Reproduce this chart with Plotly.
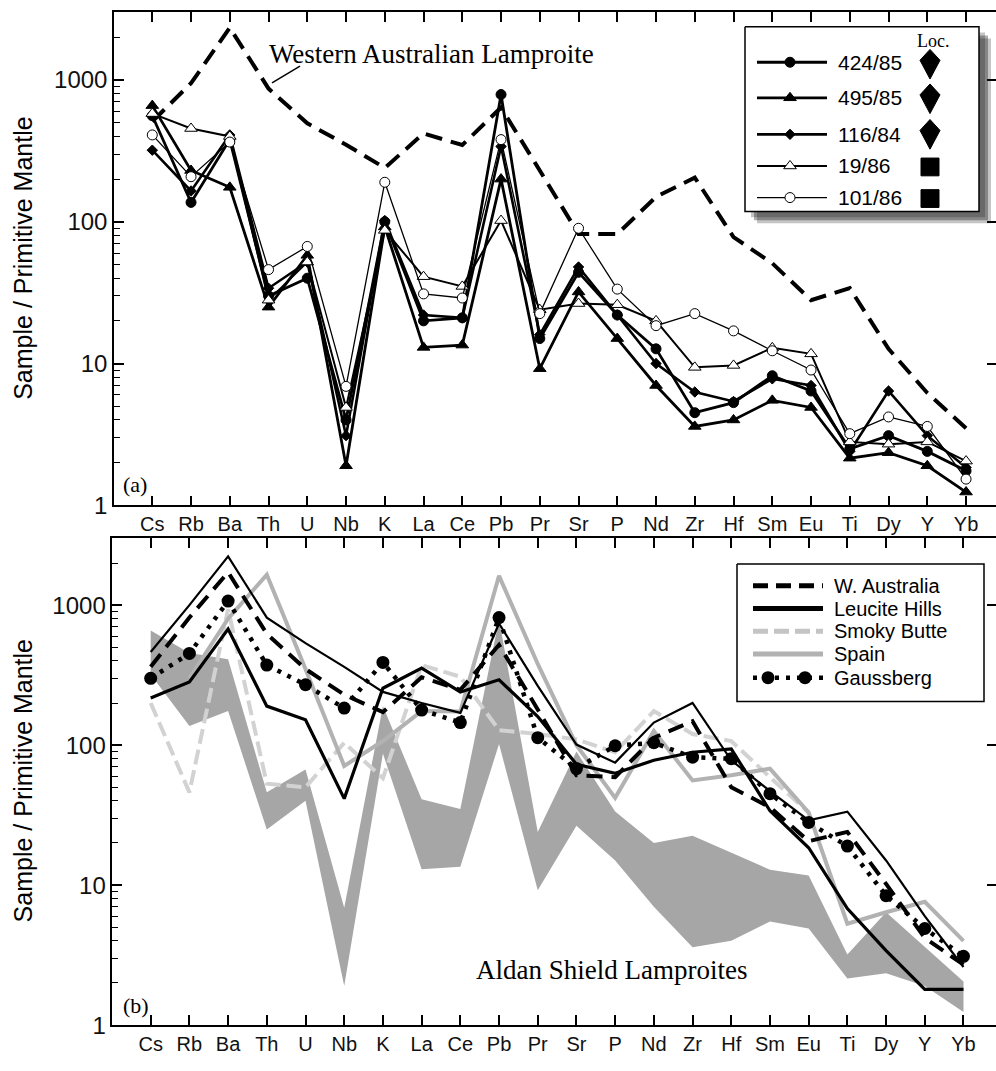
import numpy as np
import plotly.graph_objects as go

# ---------------- data ----------------
elements = ["Cs", "Rb", "Ba", "Th", "U", "Nb", "K", "La", "Ce", "Pb", "Pr",
            "Sr", "P", "Nd", "Zr", "Hf", "Sm", "Eu", "Ti", "Dy", "Y", "Yb"]

# panel (a)
wa_a = [510, 950, 2340, 870, 495, 350, 240, 420, 348, 640, 230,
        82, 82, 150, 205, 78, 51, 28, 34, 12.7, 6.2, 3.5]
s424_85 = [560, 137, 380, 30, 40, 4.0, 100, 20, 21, 790, 15,
           44, 22, 12.7, 4.5, 5.3, 8.2, 6.4, 2.5, 3.1, 2.4, 1.75]
s495_85 = [660, 230, 175, 25, 58, 1.9, 92, 13, 13.5, 200, 9.2,
           32, 15, 7.0, 3.6, 4.0, 5.5, 4.9, 2.15, 2.35, 1.9, 1.24]
s116_84 = [320, 165, 410, 34, 52, 3.1, 102, 22, 21, 340, 16,
           48, 22, 10, 6.3, 5.4, 7.8, 7.0, 2.4, 6.4, 3.1, 1.85]
s19_86 = [580, 455, 400, 28, 52, 4.9, 87, 41, 35, 102, 24,
          26.5, 26, 20, 9.4, 9.7, 12.9, 11.7, 2.8, 2.7, 2.8, 2.05]
s101_86 = [410, 208, 365, 46, 67, 6.9, 190, 31, 29, 380, 22.5,
           90, 33.5, 18.5, 22.5, 17, 12.3, 9.0, 3.2, 4.2, 3.6, 1.53]

# panel (b)
wa_b = [363, 816, 1720, 624, 350, 229, 172, 305, 248, 520, 180,
        61, 59, 113, 148, 50, 36, 20.6, 24, 10.2, 4.2, 2.7]
lh_upper = [463, 1000, 2230, 815, 535, 362, 240, 200, 170, 740, 265,
            101, 75, 145, 200, 78, 47, 29, 33.5, 15, 6.0, 2.6]
lh_lower = [217, 283, 675, 190, 152, 41.5, 255, 355, 240, 293, 160,
            73, 63, 78, 89, 94, 34, 18.5, 6.8, 3.4, 1.8, 1.8]
smoky = [200, 46, 935, 53, 50, 104, 58, 373, 308, 128, 120,
         110, 89, 175, 120, 107, 59, 33, None, None, None, None]
spain = [None, 300, 800, 1650, 350, 71, 107, 175, 174, 1620, 380,
         100, 42, 126, 56, 61, 68, 33, 5.3, 6.4, 7.6, 4.0]
gauss = [300, 452, 1070, 373, 270, 184, 390, 178, 145, 815, 113,
         68, 99, 104, 82, 80, 45, 28, 19, 8.4, 4.9, 3.1]

samples_a = [s424_85, s495_85, s116_84, s19_86, s101_86]
band_upper = list(np.max(np.array(samples_a), axis=0))
band_lower = list(np.min(np.array(samples_a), axis=0))

sample_names = ["424/85", "495/85", "116/84", "19/86", "101/86"]
b_names = ["W. Australia", "Leucite Hills", "Smoky Butte", "Spain", "Gaussberg"]
yticks = [1, 10, 100, 1000]

xs = list(range(len(elements)))
W, H = 996, 1071
SANS = "Liberation Sans, Arial, sans-serif"
SERIF = "Liberation Serif, Times New Roman, serif"

fig = go.Figure()

# ---------------- panel (a) ----------------
fig.add_trace(go.Scatter(x=xs, y=wa_a, mode="lines", xaxis="x", yaxis="y",
                         line=dict(color="black", width=4, dash="17px,9px")))

styles_a = [
    dict(lw=2.8, sym="circle", size=10, fill="black"),
    dict(lw=2.8, sym="triangle-up", size=11, fill="black"),
    dict(lw=2.6, sym="diamond", size=8, fill="black"),
    dict(lw=2.0, sym="triangle-up", size=11, fill="white"),
    dict(lw=1.3, sym="circle", size=10, fill="white"),
]
for vals, st in zip(samples_a, styles_a):
    fig.add_trace(go.Scatter(
        x=xs, y=vals, mode="lines+markers", xaxis="x", yaxis="y",
        line=dict(color="black", width=st["lw"]),
        marker=dict(symbol=st["sym"], size=st["size"], color=st["fill"],
                    line=dict(color="black", width=1))))

# ---------------- panel (b) ----------------
fig.add_trace(go.Scatter(
    x=xs + xs[::-1], y=band_upper + band_lower[::-1], mode="lines",
    fill="toself", fillcolor="#a6a6a6", line=dict(width=0, color="#a6a6a6"),
    xaxis="x2", yaxis="y2"))
fig.add_trace(go.Scatter(x=xs, y=smoky, mode="lines", xaxis="x2", yaxis="y2",
                         line=dict(color="#d2d2d2", width=4, dash="15px,6px")))
fig.add_trace(go.Scatter(x=xs, y=spain, mode="lines", xaxis="x2", yaxis="y2",
                         line=dict(color="#b2b2b2", width=4)))
fig.add_trace(go.Scatter(x=xs, y=lh_upper, mode="lines", xaxis="x2", yaxis="y2",
                         line=dict(color="black", width=2.2)))
fig.add_trace(go.Scatter(x=xs, y=lh_lower, mode="lines", xaxis="x2", yaxis="y2",
                         line=dict(color="black", width=3.2)))
fig.add_trace(go.Scatter(x=xs, y=wa_b, mode="lines", xaxis="x2", yaxis="y2",
                         line=dict(color="black", width=4, dash="16px,9px")))
fig.add_trace(go.Scatter(x=xs, y=gauss, mode="lines+markers", xaxis="x2", yaxis="y2",
                         line=dict(color="black", width=4.5, dash="4px,7px"),
                         marker=dict(size=13, color="black")))

# invisible anchors so the overlay tick axes are drawn
for xa, ya in [("x", "y3"), ("x", "y6"), ("x2", "y4"), ("x2", "y7")]:
    fig.add_trace(go.Scatter(x=[0], y=[10], xaxis=xa, yaxis=ya, mode="markers",
                             marker=dict(opacity=0), hoverinfo="skip"))

# ---------------- pixel overlay (legends / decorations) ----------------
def px(xv, yv, **kw):
    fig.add_trace(go.Scatter(x=xv, y=yv, xaxis="x5", yaxis="y5", hoverinfo="skip", **kw))

# leader line for WA label
px([272, 300], [84, 67], mode="lines", line=dict(color="black", width=1.5))

# top legend: shadow + box
for off, op in [(6, 0.25), (9, 0.35), (12, 0.25)]:
    x0, y0, x1, y1 = 745 + off, 27 + off, 979 + off, 214 + off
    px([x0, x1, x1, x0, x0], [y0, y0, y1, y1, y0], mode="lines", fill="toself",
       fillcolor="rgba(20,20,20,%.2f)" % op, line=dict(width=0))
px([745, 979, 979, 745, 745], [27, 27, 214, 214, 27], mode="lines", fill="toself",
   fillcolor="white", line=dict(color="black", width=1.5))

rows_a = [63, 99, 136, 168, 200]
for ry, st in zip(rows_a, styles_a):
    px([757, 827], [ry, ry], mode="lines", line=dict(color="black", width=st["lw"]))
    px([790], [ry], mode="markers",
       marker=dict(symbol=st["sym"], size=st["size"], color=st["fill"],
                   line=dict(color="black", width=1)))

# Loc. symbols: kites and squares
for cy in [65, 100, 136]:
    px([930, 940, 930, 920, 930], [cy - 15, cy - 4, cy + 15, cy - 4, cy - 15],
       mode="lines", fill="toself", fillcolor="black", line=dict(color="black", width=1))
for cy in [169, 201]:
    px([921, 939, 939, 921, 921], [cy - 9, cy - 9, cy + 9, cy + 9, cy - 9],
       mode="lines", fill="toself", fillcolor="black", line=dict(color="black", width=1))

# bottom legend box
px([737, 984, 984, 737, 737], [571, 571, 710, 710, 571], mode="lines", fill="toself",
   fillcolor="white", line=dict(color="black", width=1.5))
rows_b = [593, 616, 639, 662, 686]
px([753, 823], [rows_b[0]] * 2, mode="lines", line=dict(color="black", width=5, dash="15px,8px"))
px([753, 823], [rows_b[1]] * 2, mode="lines", line=dict(color="black", width=5))
px([753, 823], [rows_b[2]] * 2, mode="lines", line=dict(color="#c4c4c4", width=5, dash="15px,6px"))
px([753, 823], [rows_b[3]] * 2, mode="lines", line=dict(color="#b2b2b2", width=5))
px([753, 823], [rows_b[4]] * 2, mode="lines", line=dict(color="black", width=4.5, dash="4px,7px"))
px([768, 805], [rows_b[4]] * 2, mode="markers", marker=dict(size=13, color="black"))

# ---------------- annotations ----------------
ann = []
def label(x, y, text, size, family=SANS, xanchor="left", angle=0):
    ann.append(dict(x=x, y=y, xref="x5", yref="y5", text=text, showarrow=False,
                    xanchor=xanchor, yanchor="middle", textangle=angle,
                    font=dict(family=family, size=size, color="black")))

label(267, 55, "Western Australian Lamproite", 27, SERIF)
label(474, 982, "Aldan Shield Lamproites", 27, SERIF)
label(121, 490, "(a)", 22, SERIF)
label(121, 1018, "(b)", 22, SERIF)
label(933, 42, "Loc.", 18, SERIF, xanchor="center")
for ry, name in zip(rows_a, sample_names):
    label(836, ry, name, 21)
for ry, name in zip(rows_b, b_names):
    label(832, ry, name, 20)
label(23, 262, "Sample / Primitive Mantle", 25, xanchor="center", angle=-90)
label(23, 791, "Sample / Primitive Mantle", 25, xanchor="center", angle=-90)

# ---------------- axes ----------------
def xaxis_cfg(domain, rng, anchor):
    return dict(domain=domain, range=rng, anchor=anchor, tickmode="array",
                tickvals=xs, ticktext=elements, ticks="inside", ticklen=10,
                tickwidth=1.5, tickcolor="black", showline=True, linecolor="black",
                linewidth=1.5, mirror="ticks", showgrid=False, zeroline=False,
                tickfont=dict(family=SANS, size=20, color="#111"))

minor_vals = [m * 10 ** e for e in range(0, 4) for m in range(2, 10)]

def yaxis_cfg(domain, rng, anchor):
    return dict(domain=domain, type="log", range=rng, anchor=anchor,
                tickmode="array", tickvals=yticks, ticktext=[str(v) for v in yticks],
                ticks="inside", ticklen=10, tickwidth=1.5, tickcolor="black",
                showline=True, linecolor="black", linewidth=1.5, mirror=False,
                showgrid=False, zeroline=False,
                tickfont=dict(family=SANS, size=24, color="#111"))

def right_cfg(over, rng, anchor):
    return dict(overlaying=over, side="right", type="log", range=rng, anchor=anchor,
                tickmode="array", tickvals=yticks, ticks="inside", ticklen=9,
                tickwidth=1.5, tickcolor="black", showticklabels=False,
                showline=False, showgrid=False, zeroline=False)

def minor_cfg(over, rng, anchor):
    return dict(overlaying=over, side="left", type="log", range=rng, anchor=anchor,
                tickmode="array", tickvals=minor_vals, ticks="inside", ticklen=6,
                tickwidth=1.3, tickcolor="black", showticklabels=False,
                showline=False, showgrid=False, zeroline=False)

top_dom = [(H - 511.5) / H, (H - 12) / H]
bot_dom = [(H - 1037.7) / H, (H - 545) / H]
top_rng = [0, 3.481]
bot_rng = [0, 3.477]

fig.update_layout(
    width=W, height=H, margin=dict(l=0, r=0, t=0, b=0),
    paper_bgcolor="white", plot_bgcolor="rgba(0,0,0,0)", showlegend=False,
    hovermode=False,
    xaxis=xaxis_cfg([114 / W, 1], [-0.988, 21.773], "y"),
    yaxis=yaxis_cfg(top_dom, top_rng, "x"),
    yaxis3=right_cfg("y", top_rng, "x"),
    yaxis6=minor_cfg("y", top_rng, "x"),
    xaxis2=xaxis_cfg([112.3 / W, 1], [-0.992, 21.84], "y2"),
    yaxis2=yaxis_cfg(bot_dom, bot_rng, "x2"),
    yaxis4=right_cfg("y2", bot_rng, "x2"),
    yaxis7=minor_cfg("y2", bot_rng, "x2"),
    xaxis5=dict(domain=[0, 1], range=[0, W], anchor="y5", visible=False, fixedrange=True),
    yaxis5=dict(domain=[0, 1], range=[H, 0], anchor="x5", visible=False, fixedrange=True),
    annotations=ann,
)

fig.write_html("out.html", config={"displayModeBar": False},
               post_script="document.body.style.margin='0';")
